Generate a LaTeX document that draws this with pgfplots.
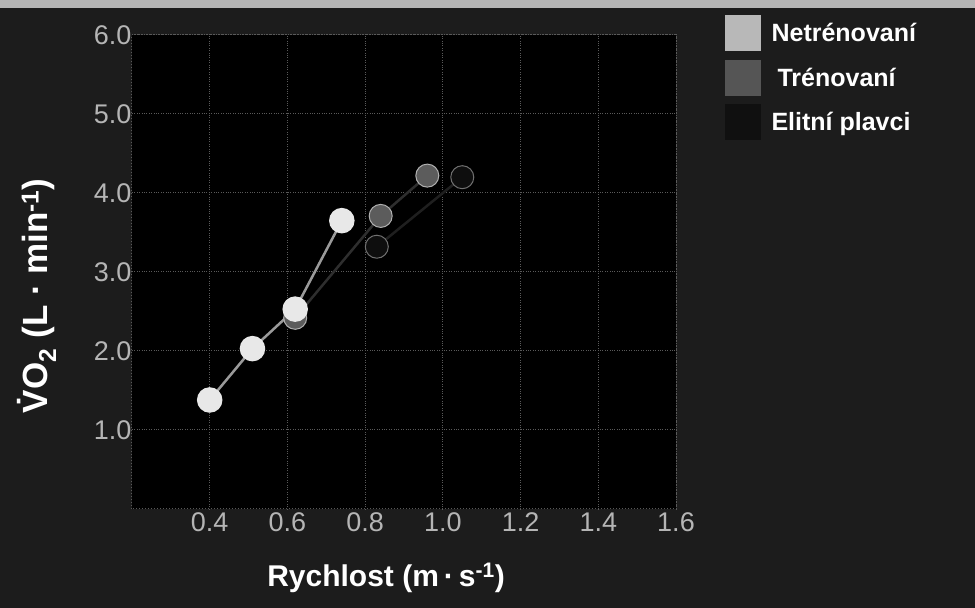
\documentclass[border=0pt]{standalone}
\usepackage{pgfplots}
\pgfplotsset{compat=1.18}
\usepackage{fontspec}
\setmainfont{Liberation Sans}
\definecolor{bgout}{HTML}{1C1C1C}
\definecolor{topband}{HTML}{B5B5B5}
\definecolor{gridc}{HTML}{5A5A5A}
\definecolor{tickc}{HTML}{B5B5B5}
\definecolor{netfill}{HTML}{E8E8E8}
\definecolor{netline}{HTML}{9A9A9A}
\definecolor{trfill}{HTML}{5C5C5C}
\definecolor{trrim}{HTML}{B0B0B0}
\definecolor{elfill}{HTML}{0E0E0E}
\definecolor{elrim}{HTML}{707070}
\definecolor{netsw}{HTML}{B8B8B8}
\definecolor{trsw}{HTML}{555555}
\definecolor{elsw}{HTML}{101010}
\begin{document}
\begin{tikzpicture}
\useasboundingbox (0pt,0pt) rectangle (975pt,608pt);
\fill[bgout] (0pt,0pt) rectangle (975pt,608pt);
\fill[topband] (0pt,600pt) rectangle (975pt,608pt);
\begin{axis}[
  at={(132pt,99pt)}, anchor=south west,
  scale only axis, width=544pt, height=474pt,
  xmin=0.2, xmax=1.6, ymin=0, ymax=6,
  xtick={0.4,0.6,0.8,1.0,1.2,1.4,1.6},
  ytick={1,2,3,4,5,6},
  major tick length=0pt,
  /pgf/number format/assume math mode=true,
  xticklabel={\pgfmathprintnumber[fixed,fixed zerofill,precision=1]{\tick}},
  yticklabel={\pgfmathprintnumber[fixed,fixed zerofill,precision=1]{\tick}},
  tick label style={font=\fontsize{27}{30}\selectfont, text=tickc},
  yticklabel style={xshift=3pt},
  axis background/.style={fill=black},
  axis line style={gridc, dotted, line width=1pt},
  grid=major,
  major grid style={gridc, dotted, line width=1pt},
  xlabel={Rychlost (m\,·\,s\textsuperscript{-1})},
  ylabel={\.{V}O\textsubscript{2} (L\;·\;min\textsuperscript{-1})},
  label style={font=\bfseries\fontsize{30}{34}\selectfont, text=white},
  xlabel style={at={(axis description cs:0.467,-0.146)}, anchor=center},
  ylabel style={at={(axis description cs:-0.175,0.45)}, anchor=center,
    font=\bfseries\fontsize{35}{40}\selectfont},
  legend style={at={(axis description cs:1.09,1.042)}, anchor=north west,
    draw=none, fill=none, text=white,
    font=\bfseries\fontsize{25}{28}\selectfont,
    row sep=9pt, inner sep=0pt,
    nodes={inner sep=1pt}},
  legend cell align=left,
  /tikz/every even column/.append style={column sep=0pt},
]
% Elitni plavci
\addplot[color=black!88, line width=2.5pt, mark=*, mark size=11.5pt,
  mark options={fill=elfill, draw=elrim, line width=1pt}, forget plot]
  coordinates {(0.83,3.32) (1.05,4.20)};
% Trenovani
\addplot[color=black!82, line width=2.5pt, mark=*, mark size=11.5pt,
  mark options={fill=trfill, draw=trrim, line width=1pt}, forget plot]
  coordinates {(0.62,2.42) (0.84,3.71) (0.96,4.22)};
% Netrenovani
\addplot[color=netline, line width=2.5pt, mark=*, mark size=11.5pt,
  mark options={fill=netfill, draw=netfill}, forget plot]
  coordinates {(0.40,1.38) (0.51,2.03) (0.62,2.53) (0.74,3.65)};
\addlegendimage{legend image code/.code={\fill[netsw] (0pt,-17pt) rectangle (35pt,18pt);}}
\addlegendentry{\hspace{10pt}Netrénovaní}
\addlegendimage{legend image code/.code={\fill[trsw] (0pt,-17pt) rectangle (35pt,18pt);}}
\addlegendentry{\hspace{16pt}Trénovaní}
\addlegendimage{legend image code/.code={\fill[elsw] (0pt,-17pt) rectangle (35pt,18pt);}}
\addlegendentry{\hspace{10pt}Elitní plavci}
\end{axis}
\end{tikzpicture}
\end{document}
